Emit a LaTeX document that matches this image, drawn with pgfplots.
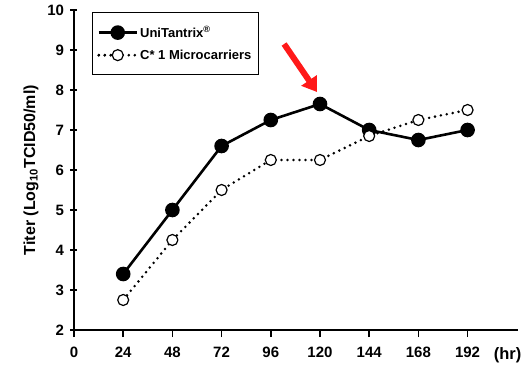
\documentclass[border=0pt]{standalone}
\usepackage{pgfplots}
\pgfplotsset{compat=1.18}
\usepackage{fontspec}
\setmainfont{Liberation Sans}
\usetikzlibrary{arrows.meta}
\begin{document}
\begin{tikzpicture}
\useasboundingbox (-74bp,-39bp) rectangle (454bp,330bp);
\begin{axis}[
  scale only axis,
  width=444bp, height=320bp,
  xmin=0, xmax=216.6, ymin=2, ymax=10,
  axis x line*=bottom, axis y line*=left,
  axis line style={line width=2bp, -},
  xtick={0,24,48,72,96,120,144,168,192},
  ytick={2,3,...,10},
  xtick align=outside,
  ytick align=center,
  major tick length=7bp,
  tick style={line width=1.5bp, black},
  /pgf/number format/assume math mode=true,
  ticklabel style={font=\fontsize{15bp}{16bp}\selectfont\bfseries},
  xticklabel style={yshift=-7bp},
  yticklabel style={xshift=-3bp},
  ylabel={Titer (Log\textsubscript{10}TCID50/ml)},
  ylabel style={font=\fontsize{16bp}{17bp}\selectfont\bfseries, yshift=2bp},
  clip=false,
  legend style={at={(rel axis cs:0.04,0.994)}, anchor=north west,
    font=\fontsize{13bp}{14bp}\selectfont\bfseries, draw=black, line width=1.2bp,
    inner ysep=12bp, inner xsep=5bp, row sep=7bp},
  legend cell align=left,
  legend image code/.code={
    \draw[#1] (0cm,0cm) -- (0.67cm,0cm);
    \draw[#1, mark repeat=2, mark phase=2] plot coordinates {(0cm,0cm) (0.67cm,0cm) (1.34cm,0cm)};
  },
]
\addplot[black, line width=2.6bp, mark=*, mark size=6bp, mark options={solid, fill=black}]
  coordinates {(24,3.4) (48,5.0) (72,6.6) (96,7.25) (120,7.65) (144,7.0) (168,6.75) (192,7.0)};
\addlegendentry{UniTantrix\textsuperscript{\textregistered}}
\addplot[black, line width=2.8bp, dash pattern=on 0bp off 6bp, line cap=round, mark=*, mark size=5.5bp,
  mark options={dash pattern=on 100bp off 0bp, draw=black, fill=white, line width=1.2bp}]
  coordinates {(24,2.75) (48,4.25) (72,5.5) (96,6.25) (120,6.25) (144,6.85) (168,7.25) (192,7.5)};
\addlegendentry{C* 1 Microcarriers}
\draw[draw=red!90!white, line width=6bp, -{Triangle[length=14bp,width=18bp]}]
  (axis cs:102.5,9.15) -- (axis cs:118.5,7.95);
\node[font=\fontsize{16.5bp}{18bp}\selectfont\bfseries] at ([yshift=-25bp]axis cs:211.5,2) {(hr)};
\end{axis}
\end{tikzpicture}
\end{document}
